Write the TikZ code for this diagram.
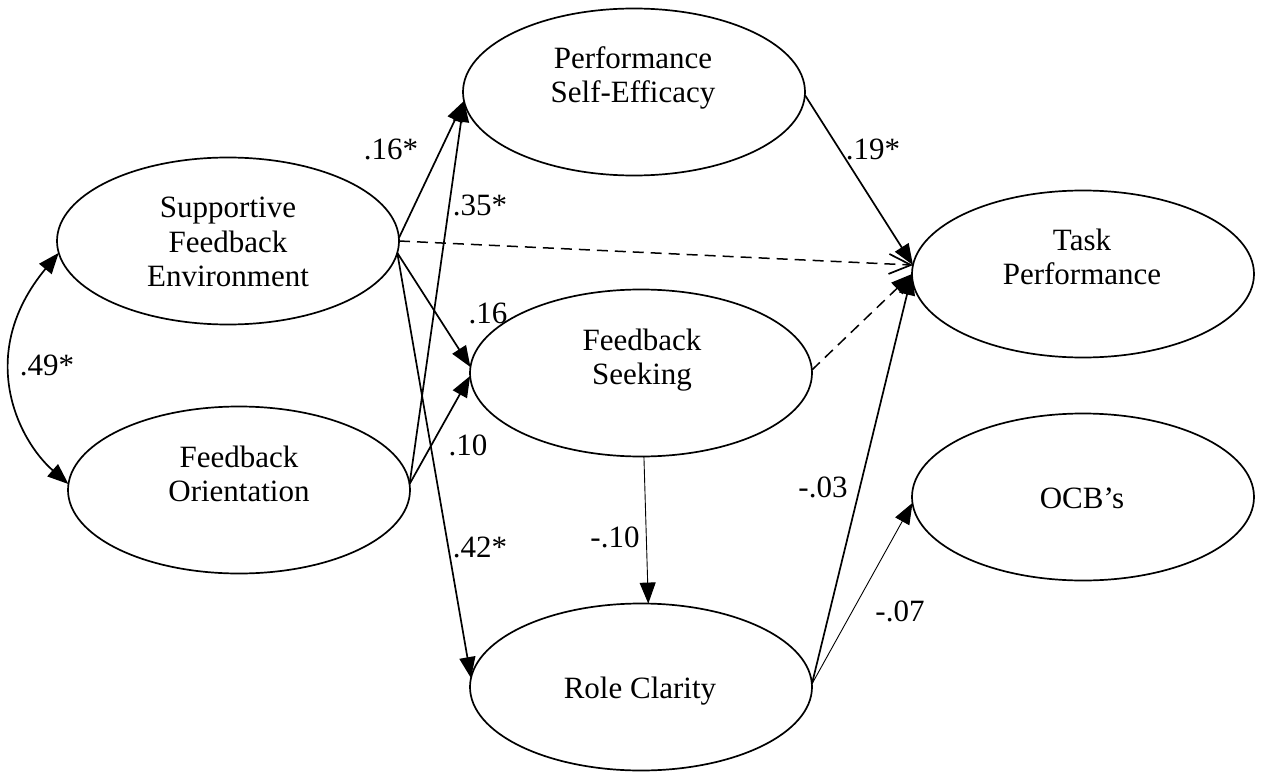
\documentclass[tikz,border=0pt]{standalone}
\usepackage{fontspec}
\setmainfont{Liberation Serif}
\usetikzlibrary{arrows.meta,shapes.geometric}
\begin{document}
\begin{tikzpicture}[x=1pt,y=-1pt,
  construct/.style={draw, ellipse, line width=1.7pt, inner sep=0pt, outer sep=0pt,
                    minimum width=342pt, minimum height=167pt},
  ctext/.style={align=center, inner sep=0pt, font=\fontsize{31}{34.5}\selectfont},
  coef/.style={anchor=base, inner sep=0pt, font=\fontsize{31}{34.5}\selectfont},
  effect/.style={line width=1.7pt, -{Triangle[length=21pt,width=16pt]}},
  weak/.style={line width=0.9pt, -{Triangle[length=21pt,width=16pt]}},
  nsopen/.style={line width=1.5pt, dash pattern=on 11pt off 7pt,
                 -{Straight Barb[length=22pt,width=20pt,line width=1.7pt]}},
  nsfill/.style={line width=1.5pt, dash pattern=on 11pt off 7pt,
                 -{Triangle[length=21pt,width=16pt]}},
  corr/.style={line width=1.7pt, {Triangle[length=21pt,width=16pt]}-{Triangle[length=21pt,width=16pt]}}
]
\useasboundingbox[fill=white] (0,0) rectangle (1264,773);

% latent constructs
\node[construct] (sfe) at (228,241) {};
\node[construct] (fo)  at (239,490) {};
\node[construct] (pse) at (634,92)  {};
\node[construct] (fs)  at (641,373) {};
\node[construct] (rc)  at (641,687) {};
\node[construct] (tp)  at (1083,274) {};
\node[construct] (ocb) at (1083,497) {};

% construct names
\node[ctext] (sfe-t) at (228,242)  {Supportive\\Feedback\\Environment};
\node[ctext] (fo-t)  at (239,474)  {Feedback\\Orientation};
\node[ctext] (pse-t) at (633,78)   {Performance\\Self-Efficacy};
\node[ctext] (fs-t)  at (642,360)  {Feedback\\Seeking};
\node[ctext] (tp-t)  at (1082,257) {Task\\Performance};
\node[ctext] (rc-t)  at (640,691)  {Role Clarity};
\node[ctext] (ocb-t) at (1082,498) {OCB’s};

% correlation between the two predictors
\draw[corr] (sfe.184) .. controls (-25,354) and (18,440) .. (fo.178);

% structural paths
\draw[effect] (sfe.1)  -- (pse.183);
\draw[effect] (fo.2)   -- (pse.183);
\draw[effect] (sfe.-4) -- (fs.178);
\draw[effect] (fo.2)   -- (fs.181);
\draw[effect] (sfe.-4) -- (rc.177);
\draw[nsopen] (sfe.0)  -- (tp.177);
\draw[effect] (pse.-1) -- (tp.177);
\draw[nsfill] (fs.1)   -- (tp.180);
\draw[effect] (rc.1)   -- (tp.180);
\draw[weak]   (fs.272) -- (rc.85);
\draw[weak]   (rc.1)   -- (ocb.182);

% path coefficients
\node[coef] (c-sfe-pse) at (391,160) {.16*};
\node[coef] (c-fo-pse)  at (480,215) {.35*};
\node[coef] (c-corr)    at (47,375)  {.49*};
\node[coef] (c-pse-tp)  at (873,160) {.19*};
\node[coef] (c-sfe-fs)  at (488,323) {.16};
\node[coef] (c-fo-fs)   at (468,455) {.10};
\node[coef] (c-sfe-rc)  at (480,557) {.42*};
\node[coef] (c-fs-rc)   at (615,547) {-.10};
\node[coef] (c-rc-tp)   at (823,497) {-.03};
\node[coef] (c-rc-ocb)  at (900,621) {-.07};
\end{tikzpicture}
\end{document}
